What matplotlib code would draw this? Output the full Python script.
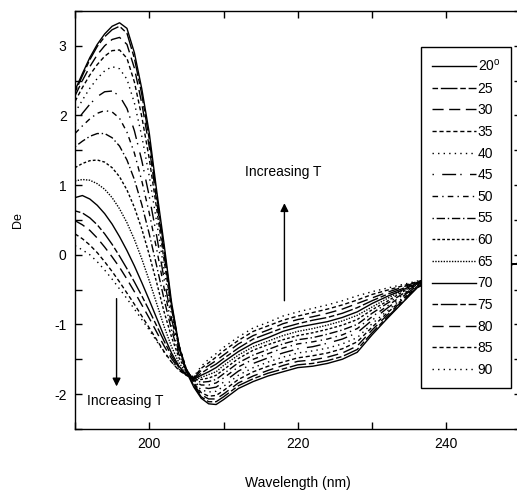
import matplotlib
matplotlib.use('Agg')
import matplotlib.pyplot as plt
import numpy as np

plt.rcParams['font.family'] = ['Liberation Sans', 'DejaVu Sans']
plt.rcParams['axes.unicode_minus'] = False

# Wavelength grid (nm): peak region and tail region
wl_peak = [190, 191, 192, 193, 194, 195, 196, 197, 198, 199, 200, 201, 202, 203, 204, 205, 206]
wl_tail = [207, 208, 209, 210, 212, 214, 216, 218, 220, 222, 224, 226, 228, 230, 232, 234, 236, 238, 240, 244, 250]

temps = [20, 25, 30, 35, 40, 45, 50, 55, 60, 65, 70, 75, 80, 85, 90]

# De values, 190-206 nm
peak_20 = [2.36, 2.60, 2.83, 3.02, 3.17, 3.28, 3.33, 3.25, 2.90, 2.38, 1.75, 0.92, 0.15, -0.68, -1.30, -1.68, -1.90]
peak_25 = [2.33, 2.57, 2.80, 2.99, 3.13, 3.23, 3.28, 3.18, 2.82, 2.30, 1.66, 0.85, 0.08, -0.72, -1.30, -1.67, -1.88]
peak_30 = [2.28, 2.50, 2.70, 2.87, 3.00, 3.09, 3.12, 3.02, 2.68, 2.17, 1.55, 0.77, 0.00, -0.76, -1.30, -1.66, -1.86]
peak_35 = [2.20, 2.40, 2.58, 2.73, 2.85, 2.93, 2.94, 2.82, 2.48, 1.98, 1.38, 0.66, -0.08, -0.78, -1.30, -1.64, -1.84]
peak_40 = [2.04, 2.22, 2.39, 2.53, 2.64, 2.70, 2.67, 2.52, 2.18, 1.70, 1.13, 0.47, -0.22, -0.86, -1.33, -1.64, -1.83]
peak_45 = [1.88, 2.03, 2.16, 2.27, 2.34, 2.35, 2.28, 2.10, 1.78, 1.35, 0.84, 0.27, -0.35, -0.92, -1.35, -1.64, -1.82]
peak_50 = [1.74, 1.85, 1.95, 2.03, 2.07, 2.05, 1.96, 1.76, 1.46, 1.06, 0.60, 0.08, -0.48, -1.00, -1.40, -1.65, -1.81]
peak_55 = [1.55, 1.63, 1.70, 1.74, 1.74, 1.68, 1.56, 1.36, 1.08, 0.72, 0.30, -0.16, -0.64, -1.08, -1.43, -1.65, -1.80]
peak_60 = [1.25, 1.31, 1.35, 1.36, 1.33, 1.25, 1.12, 0.93, 0.68, 0.37, 0.00, -0.40, -0.82, -1.18, -1.48, -1.67, -1.80]
peak_65 = [1.06, 1.08, 1.07, 1.02, 0.94, 0.82, 0.66, 0.46, 0.22, -0.06, -0.37, -0.70, -1.03, -1.32, -1.55, -1.70, -1.80]
peak_70 = [0.82, 0.85, 0.80, 0.71, 0.59, 0.44, 0.26, 0.06, -0.16, -0.40, -0.65, -0.91, -1.17, -1.41, -1.60, -1.72, -1.79]
peak_75 = [0.63, 0.60, 0.53, 0.43, 0.30, 0.15, -0.02, -0.20, -0.39, -0.59, -0.80, -1.02, -1.24, -1.45, -1.62, -1.73, -1.78]
peak_80 = [0.49, 0.43, 0.35, 0.24, 0.11, -0.03, -0.18, -0.35, -0.53, -0.72, -0.91, -1.11, -1.31, -1.49, -1.64, -1.73, -1.77]
peak_85 = [0.30, 0.23, 0.14, 0.03, -0.10, -0.24, -0.39, -0.55, -0.71, -0.88, -1.05, -1.22, -1.39, -1.54, -1.66, -1.73, -1.76]
peak_90 = [0.13, 0.07, 0.00, -0.10, -0.22, -0.35, -0.49, -0.63, -0.78, -0.93, -1.08, -1.24, -1.40, -1.54, -1.65, -1.72, -1.75]

# De values, 207-250 nm
tail_20 = [-2.06, -2.14, -2.15, -2.08, -1.92, -1.82, -1.74, -1.68, -1.62, -1.60, -1.56, -1.50, -1.40, -1.15, -0.92, -0.70, -0.48, -0.35, -0.30, -0.22, -0.12]
tail_25 = [-2.04, -2.11, -2.11, -2.04, -1.88, -1.78, -1.70, -1.64, -1.58, -1.56, -1.52, -1.46, -1.36, -1.12, -0.90, -0.69, -0.48, -0.35, -0.30, -0.22, -0.12]
tail_30 = [-2.01, -2.07, -2.07, -2.00, -1.84, -1.74, -1.66, -1.59, -1.53, -1.51, -1.47, -1.41, -1.31, -1.08, -0.87, -0.67, -0.47, -0.35, -0.30, -0.22, -0.12]
tail_35 = [-1.98, -2.03, -2.02, -1.95, -1.79, -1.68, -1.60, -1.54, -1.48, -1.45, -1.41, -1.35, -1.25, -1.04, -0.84, -0.65, -0.46, -0.35, -0.30, -0.22, -0.12]
tail_40 = [-1.94, -1.97, -1.96, -1.89, -1.73, -1.62, -1.54, -1.47, -1.41, -1.38, -1.34, -1.28, -1.19, -0.99, -0.81, -0.63, -0.45, -0.35, -0.30, -0.22, -0.12]
tail_45 = [-1.90, -1.92, -1.90, -1.83, -1.67, -1.56, -1.48, -1.41, -1.35, -1.32, -1.27, -1.21, -1.12, -0.94, -0.77, -0.61, -0.45, -0.34, -0.30, -0.22, -0.12]
tail_50 = [-1.87, -1.87, -1.84, -1.77, -1.61, -1.50, -1.42, -1.34, -1.28, -1.25, -1.21, -1.15, -1.06, -0.89, -0.74, -0.59, -0.44, -0.34, -0.30, -0.22, -0.12]
tail_55 = [-1.83, -1.82, -1.79, -1.71, -1.55, -1.44, -1.36, -1.28, -1.22, -1.19, -1.14, -1.08, -1.00, -0.84, -0.70, -0.57, -0.43, -0.34, -0.30, -0.22, -0.12]
tail_60 = [-1.79, -1.77, -1.73, -1.65, -1.49, -1.37, -1.29, -1.22, -1.16, -1.12, -1.07, -1.01, -0.93, -0.79, -0.67, -0.54, -0.42, -0.34, -0.29, -0.21, -0.12]
tail_65 = [-1.76, -1.72, -1.68, -1.59, -1.44, -1.32, -1.24, -1.16, -1.10, -1.06, -1.01, -0.95, -0.87, -0.75, -0.63, -0.52, -0.42, -0.34, -0.29, -0.21, -0.12]
tail_70 = [-1.73, -1.68, -1.62, -1.54, -1.39, -1.27, -1.19, -1.10, -1.04, -1.00, -0.96, -0.90, -0.82, -0.70, -0.60, -0.51, -0.41, -0.34, -0.29, -0.21, -0.12]
tail_75 = [-1.70, -1.63, -1.57, -1.49, -1.34, -1.21, -1.13, -1.05, -0.99, -0.94, -0.90, -0.84, -0.76, -0.66, -0.57, -0.49, -0.40, -0.33, -0.29, -0.21, -0.12]
tail_80 = [-1.66, -1.59, -1.52, -1.44, -1.28, -1.16, -1.08, -0.99, -0.93, -0.89, -0.84, -0.78, -0.70, -0.62, -0.54, -0.47, -0.39, -0.33, -0.29, -0.21, -0.12]
tail_85 = [-1.63, -1.55, -1.47, -1.38, -1.23, -1.10, -1.02, -0.94, -0.88, -0.83, -0.78, -0.72, -0.65, -0.57, -0.51, -0.45, -0.39, -0.33, -0.29, -0.21, -0.12]
tail_90 = [-1.60, -1.50, -1.42, -1.33, -1.18, -1.05, -0.97, -0.88, -0.82, -0.77, -0.72, -0.66, -0.59, -0.53, -0.48, -0.43, -0.38, -0.33, -0.29, -0.21, -0.12]

peaks = [peak_20, peak_25, peak_30, peak_35, peak_40, peak_45, peak_50, peak_55,
         peak_60, peak_65, peak_70, peak_75, peak_80, peak_85, peak_90]
tails = [tail_20, tail_25, tail_30, tail_35, tail_40, tail_45, tail_50, tail_55,
         tail_60, tail_65, tail_70, tail_75, tail_80, tail_85, tail_90]

# line styles repeat after 10 curves
styles = ['-', (0, (4, 2, 12, 2)), (0, (8, 4)), (0, (3, 2)), (0, (1, 3)),
          (0, (1, 6, 10, 3)), (0, (4, 3, 1, 3)), (0, (1, 2, 6, 2)), (0, (2, 1.5)), (0, (1, 1))]

fig = plt.figure(figsize=(5.17, 4.97), dpi=100)
ax = fig.add_axes([0.145, 0.137, 0.862, 0.841])

wl = wl_peak + wl_tail
for i, t in enumerate(temps):
    y = peaks[i] + tails[i]
    lab = '20$^\\mathregular{o}$' if t == 20 else str(t)
    ax.plot(wl, y, color='black', lw=1, linestyle=styles[i % 10], label=lab)

ax.set_xlim(190, 250)
ax.set_ylim(-2.5, 3.5)
ax.set_xticks([200, 220, 240])
ax.set_xticks([190, 210, 230, 250], minor=True)
ax.set_yticks([-2, -1, 0, 1, 2, 3])
ax.set_yticks(np.arange(-2.5, 3.6, 0.5), minor=True)
ax.tick_params(which='both', direction='in', top=True, right=True,
               length=5, width=1, labelsize=10, pad=6)
for s in ax.spines.values():
    s.set_linewidth(1)

ax.set_xlabel('Wavelength (nm)', fontsize=10, labelpad=18)
ax.set_ylabel('De', fontsize=9, labelpad=22)

# arrows and labels
ax.annotate('', xy=(218.2, 0.78), xytext=(218.2, -0.70),
            arrowprops=dict(arrowstyle='-|>', color='black', lw=1, mutation_scale=12))
ax.text(218.0, 1.19, 'Increasing T', ha='center', va='center', fontsize=10)
ax.annotate('', xy=(195.6, -1.93), xytext=(195.6, -0.59),
            arrowprops=dict(arrowstyle='-|>', color='black', lw=1, mutation_scale=12))
ax.text(191.6, -2.1, 'Increasing T', ha='left', va='center', fontsize=10)

leg = ax.legend(loc='upper right', bbox_to_anchor=(0.979, 0.914), fontsize=10,
                handlelength=3.2, labelspacing=0.55, handletextpad=0.1,
                frameon=True, fancybox=False, borderpad=0.8, borderaxespad=0)
leg.get_frame().set_edgecolor('black')
leg.get_frame().set_linewidth(1)
leg.get_frame().set_alpha(1)

fig.savefig('out.png', dpi=100)
